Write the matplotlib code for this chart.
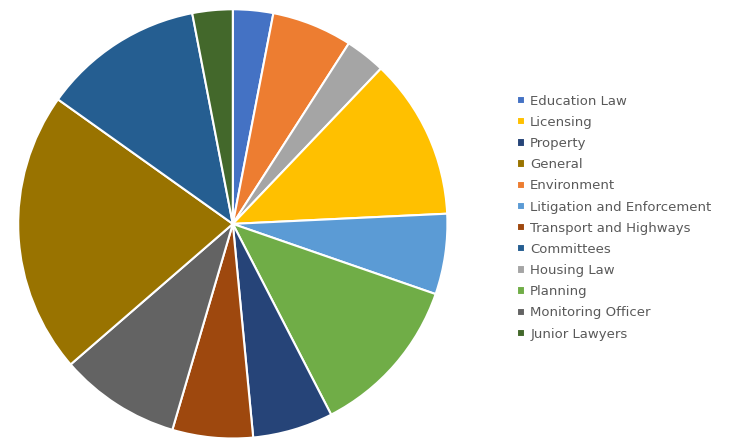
import matplotlib.pyplot as plt

# slice order (clockwise from top)
areas = ["Education Law", "Environment", "Housing Law", "Licensing",
         "Litigation and Enforcement", "Planning", "Property",
         "Transport and Highways", "Monitoring Officer", "General",
         "Committees", "Junior Lawyers"]
counts = [1, 2, 1, 4, 2, 4, 2, 2, 3, 7, 4, 1]
colors = ["#4472C4", "#ED7D31", "#A5A5A5", "#FFC000", "#5B9BD5", "#70AD47",
          "#264478", "#9E480E", "#636363", "#997300", "#255E91", "#43682B"]

# legend order as shown
legend_order = ["Education Law", "Licensing", "Property", "General",
                "Environment", "Litigation and Enforcement",
                "Transport and Highways", "Committees", "Housing Law",
                "Planning", "Monitoring Officer", "Junior Lawyers"]

fig = plt.figure(figsize=(7.45, 4.46), dpi=100)
ax = fig.add_axes([0.02, 0.012, 0.585, 0.972])
wedges, _ = ax.pie(counts, colors=colors, startangle=90, counterclock=False,
                   wedgeprops={"edgecolor": "white", "linewidth": 1.5})
ax.set_xlim(-1.01, 1.01)
ax.set_ylim(-1.01, 1.01)
ax.set_aspect("equal")

handles = [wedges[areas.index(n)] for n in legend_order]
leg = fig.legend(handles, legend_order, loc="center left",
                 bbox_to_anchor=(0.678, 0.512), frameon=False,
                 fontsize=9.5, handlelength=0.6, handleheight=0.6,
                 handletextpad=0.4, labelspacing=0.62)
for t in leg.get_texts():
    t.set_color("#595959")

fig.savefig("out.png", dpi=100)
